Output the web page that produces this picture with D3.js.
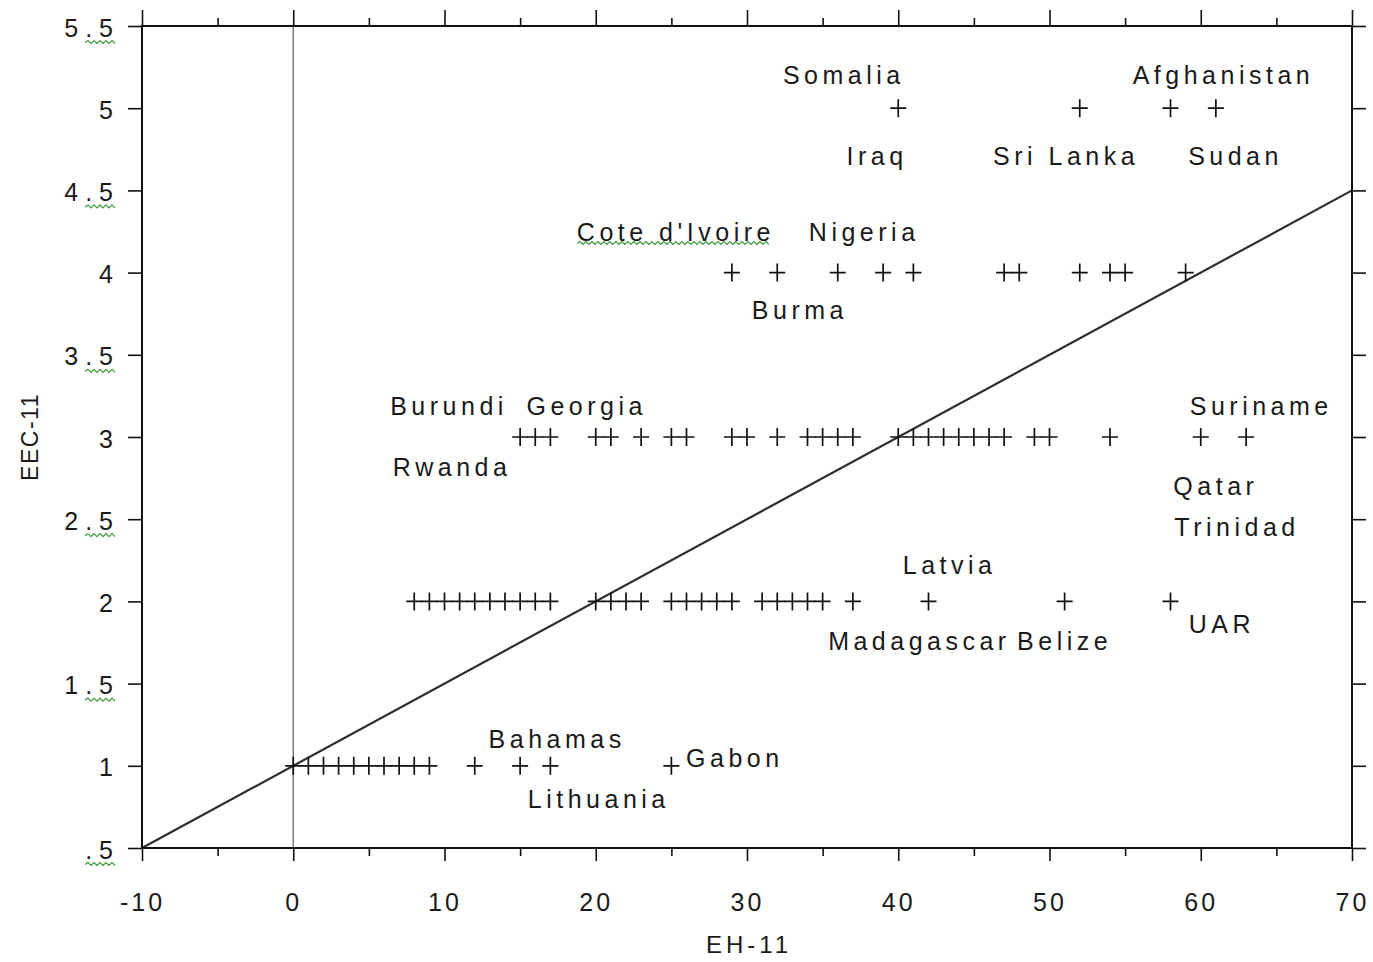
<!DOCTYPE html>
<html>
<head>
<meta charset="utf-8">
<script src="https://cdn.jsdelivr.net/npm/d3@7"></script>
<style>
  body { margin: 0; background: #fff; }
  text { font-family: "Liberation Sans", Arial, sans-serif; fill: #1a1a1a; }
</style>
</head>
<body>
<svg id="chart" width="1373" height="962"></svg>
<script>
// EH-11 scores of the countries at each EEC-11 level
const eecLevels = [1, 2, 3, 4, 5];
const ehAtEec1 = [0, 1, 2, 3, 4, 5, 6, 7, 8, 9, 12, 15, 17, 25];
const ehAtEec2 = [8, 9, 10, 11, 12, 13, 14, 15, 16, 17, 20, 21, 22, 23, 25, 26, 27, 28, 29,
                  31, 32, 33, 34, 35, 37, 42, 51, 58];
const ehAtEec3 = [15, 16, 17, 20, 21, 23, 25, 26, 29, 30, 32, 34, 35, 36, 37, 40, 41, 42, 43,
                  44, 45, 46, 47, 49, 50, 54, 60, 63];
const ehAtEec4 = [29, 32, 36, 39, 41, 47, 48, 52, 54, 55, 59];
const ehAtEec5 = [40, 52, 58, 61];

// Reference line EEC = 1 + EH/20, given by its end points
const refLine = [[-10, 0.5], [70, 4.5]];

// Axis ticks
const xTicks = [-10, 0, 10, 20, 30, 40, 50, 60, 70];
const xMinorTicks = [-5, 5, 15, 25, 35, 45, 55, 65];
const yTicks = [0.5, 1, 1.5, 2, 2.5, 3, 3.5, 4, 4.5, 5, 5.5];
const yTickLabels = [".5", "1", "1.5", "2", "2.5", "3", "3.5", "4", "4.5", "5", "5.5"];

// Country names and where they sit in data space
const countryNames = ["Somalia", "Afghanistan", "Iraq", "Sri Lanka", "Sudan", "Cote d'Ivoire",
  "Nigeria", "Burma", "Burundi", "Georgia", "Rwanda", "Suriname", "Qatar", "Trinidad",
  "Latvia", "Madagascar", "Belize", "UAR", "Bahamas", "Lithuania", "Gabon"];
const nameEH  = [36.4, 61.5, 38.6, 51.1, 62.3, 25.3, 37.75, 33.5, 10.3, 19.4, 10.5, 64.0, 61.0,
  62.4, 43.4, 41.4, 51.0, 61.4, 17.45, 20.2, 29.2];
const nameEEC = [5.2, 5.2, 4.71, 4.71, 4.71, 4.25, 4.25, 3.77, 3.19, 3.19, 2.82, 3.19, 2.70,
  2.45, 2.22, 1.76, 1.76, 1.86, 1.16, 0.80, 1.05];
const flaggedNames = ["Cote d'Ivoire"];

const svg = d3.select("#chart");
const x = d3.scaleLinear().domain([-10, 70]).range([142, 1352]);
const y = d3.scaleLinear().domain([0.5, 5.5]).range([848, 26]);

// Green squiggle used by the word processor for flagged text
function squiggle(x0, x1, yy) {
  const step = 3;
  let d = `M${x0},${yy}`;
  let up = true;
  for (let xx = x0 + step; xx <= x1; xx += step) {
    d += `L${xx},${yy + (up ? -2 : 1)}`;
    up = !up;
  }
  return d;
}

// Zero line
svg.append("line")
  .attr("x1", x(0)).attr("x2", x(0))
  .attr("y1", y(5.5)).attr("y2", y(0.5))
  .attr("stroke", "#7a7a7a").attr("stroke-width", 1.5);

// Reference diagonal
svg.append("path")
  .datum(refLine)
  .attr("d", d3.line().x(d => x(d[0])).y(d => y(d[1])))
  .attr("stroke", "#2e2e2e").attr("stroke-width", 2.2).attr("fill", "none");

// Frame
svg.append("rect")
  .attr("x", x(-10)).attr("y", y(5.5))
  .attr("width", x(70) - x(-10)).attr("height", y(0.5) - y(5.5))
  .attr("fill", "none").attr("stroke", "#111").attr("stroke-width", 2);

// Axes
const axisB = d3.axisBottom(x).tickValues(xTicks).tickSize(13).tickPadding(32)
  .tickFormat(d => d);
const gB = svg.append("g").attr("transform", `translate(0,${y(0.5)})`).call(axisB);
const axisT = d3.axisTop(x).tickValues(xTicks).tickSize(16).tickFormat("");
const gT = svg.append("g").attr("transform", `translate(0,${y(5.5)})`).call(axisT);
const gBm = svg.append("g").attr("transform", `translate(0,${y(0.5)})`)
  .call(d3.axisBottom(x).tickValues(xMinorTicks).tickSize(8).tickFormat(""));
const gTm = svg.append("g").attr("transform", `translate(0,${y(5.5)})`)
  .call(d3.axisTop(x).tickValues(xMinorTicks).tickSize(8).tickFormat(""));
const gL = svg.append("g").attr("transform", `translate(${x(-10)},0)`)
  .call(d3.axisLeft(y).tickValues(yTicks).tickSize(14).tickPadding(8)
    .tickFormat((d, i) => yTickLabels[i]));
const gR = svg.append("g").attr("transform", `translate(${x(70)},0)`)
  .call(d3.axisRight(y).tickValues(yTicks).tickSize(14).tickFormat(""));

[gB, gT, gBm, gTm, gL, gR].forEach(g => {
  g.select(".domain").remove();
  g.selectAll(".tick line").attr("stroke", "#111").attr("stroke-width", 1.6);
});
gB.selectAll(".tick text")
  .style("font-family", "'Liberation Sans', Arial, sans-serif")
  .attr("font-size", 25).attr("letter-spacing", 3).attr("fill", "#1a1a1a");
gL.selectAll(".tick text")
  .style("font-family", "'Liberation Sans', Arial, sans-serif")
  .attr("font-size", 25).attr("letter-spacing", 7).attr("fill", "#1a1a1a")
  .attr("dy", "0.4em");

// Squiggles under the half-step labels
gL.selectAll(".tick").each(function (d) {
  if (d % 1 !== 0) {
    d3.select(this).append("path")
      .attr("d", squiggle(-57, -27, 16))
      .attr("stroke", "#3c9a3c").attr("stroke-width", 1.2).attr("fill", "none");
  }
});

// Plus markers
const rows = [ehAtEec1, ehAtEec2, ehAtEec3, ehAtEec4, ehAtEec5];
const pts = [];
rows.forEach((row, i) => row.forEach(v => pts.push({ eh: v, eec: eecLevels[i] })));
const plus = "M-8,0H8M0,-9V9";
svg.append("g").selectAll("path").data(pts).join("path")
  .attr("transform", d => `translate(${x(d.eh)},${y(d.eec)})`)
  .attr("d", plus)
  .attr("stroke", "#111").attr("stroke-width", 1.7).attr("fill", "none");

// Country labels
const labelG = svg.append("g");
countryNames.forEach((name, i) => {
  const t = labelG.append("text")
    .attr("x", x(nameEH[i])).attr("y", y(nameEEC[i]))
    .attr("dy", "0.36em")
    .attr("text-anchor", "middle")
    .attr("font-size", 25).attr("letter-spacing", 4.5)
    .text(name);
  if (flaggedNames.includes(name)) {
    const bb = t.node().getBBox();
    labelG.append("path")
      .attr("d", squiggle(bb.x, bb.x + bb.width - 4, bb.y + bb.height - 2))
      .attr("stroke", "#3c9a3c").attr("stroke-width", 1.2).attr("fill", "none");
  }
});

// Axis titles
svg.append("text")
  .attr("x", (x(-10) + x(70)) / 2 + 2).attr("y", 953)
  .attr("text-anchor", "middle").attr("font-size", 24).attr("letter-spacing", 4)
  .text("EH-11");
svg.append("text")
  .attr("transform", `translate(38,${y(3)}) rotate(-90)`)
  .attr("text-anchor", "middle").attr("font-size", 23).attr("letter-spacing", 1.5)
  .text("EEC-11");
</script>
</body>
</html>
